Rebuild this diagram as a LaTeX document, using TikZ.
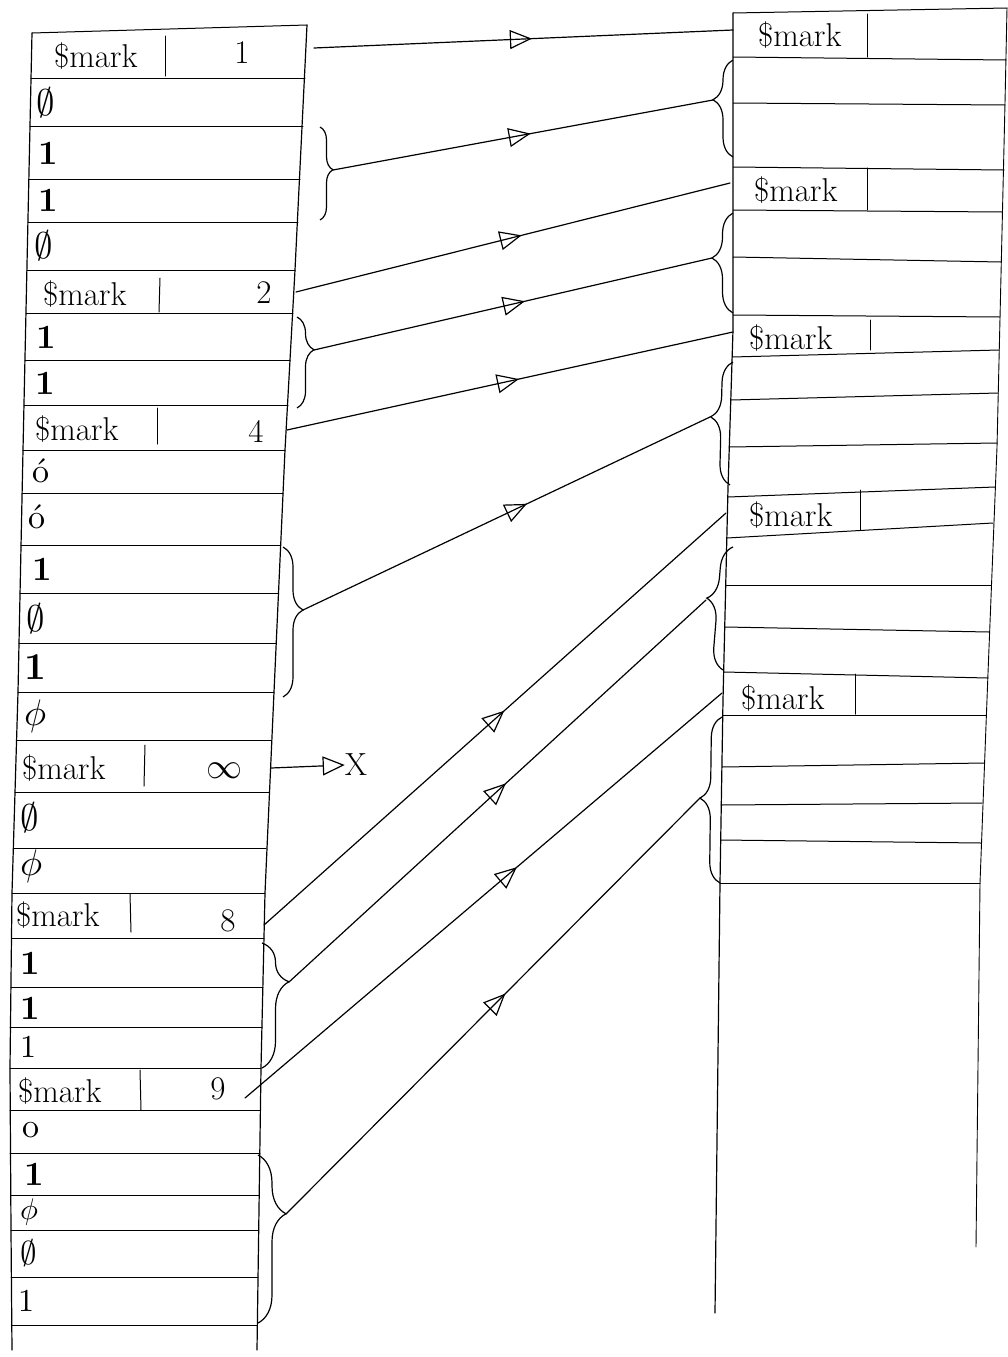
\documentclass[tikz,border=0pt]{standalone}
\usetikzlibrary{arrows.meta,decorations.markings,decorations.pathreplacing}
\newcommand\hsym[2][3.7]{\scalebox{#1}{$#2$}}
\newcommand\htxt[2][3.2]{\scalebox{#1}{#2}}
\begin{document}
\begin{tikzpicture}[x=1pt,y=-1pt,
  edge/.style={line width=1.2pt, line cap=round, line join=round},
  cell/.style={line width=1pt, line cap=round},
  hand/.style={font=\fontsize{33}{33}\selectfont, inner sep=0pt},
  sym/.style={font=\fontsize{10}{12}\selectfont, inner sep=0pt, anchor=west},
  bsym/.style={font=\fontsize{10}{12}\selectfont\bfseries, inner sep=0pt, anchor=west},
  brc/.style 2 args={decorate, decoration={brace, amplitude=#1, aspect=#2}, line width=1.2pt},
  conn/.style={edge, postaction={decorate}, decoration={markings,
     mark=at position #1 with {\arrow{Triangle[open,length=22pt,width=19pt,line width=1.2pt]}}}}
]
\useasboundingbox (0,0) rectangle (1007,1357);

% ---------------- left column ----------------
\draw[edge] (32,33) -- (23,450) -- (18,692) -- (12,893) -- (10,1068) -- (11,1230) -- (12,1350);
\draw[edge] (307,25) -- (295,270) -- (285,450) -- (274,692) -- (265,893) -- (261,1068) -- (257,1350);
\draw[cell] (32,33) -- (307,25);
\foreach \y/\l/\r in {78/31/305, 126/30/303, 179/29/300, 222/28/298, 270/27/295,
  313/26/293, 360/25/290, 405/24/288, 450/23/285, 493/22/283, 545/21/280,
  593/20/278, 643/19/276, 692/18/274, 740/17/271, 792/15/269, 848/14/266,
  893/12/265, 938/12/264, 987/11/263, 1027/10/262, 1068/10/261, 1110/10/260,
  1153/10/260, 1195/11/259, 1230/11/258, 1277/11/258, 1325/12/257}
  \draw[cell] (\l,\y) -- (\r,\y);
% dividers in $mark rows
\draw[cell] (165,36) -- (165,76);
\draw[cell] (160,278) -- (159,312);
\draw[cell] (157,408) -- (157,444);
\draw[cell] (145,745) -- (144,786);
\draw[cell] (130,894) -- (131,932);
\draw[cell] (140,1070) -- (141,1110);

% left texts
\node[hand,anchor=west] (L1) at (54,56) {\$mark};
\node[hand] (L1n) at (242,53) {1};
\node[sym] (L2) at (36,103) {\hsym{\emptyset}};
\node[bsym] (L3) at (38,153) {\htxt[3.4]{1}};
\node[bsym] (L4) at (38,200) {\htxt[3.4]{1}};
\node[sym] (L5) at (34,246) {\hsym{\emptyset}};
\node[hand,anchor=west] (L6) at (43,294) {\$mark};
\node[hand] (L6n) at (264,293) {2};
\node[bsym] (L7) at (36,337) {\htxt[3.4]{1}};
\node[bsym] (L8) at (35,383) {\htxt[3.4]{1}};
\node[hand,anchor=west] (L9) at (35,429) {\$mark};
\node[hand] (L9n) at (256,431) {4};
\node[sym] (L10) at (32,471) {\htxt[3.4]{ó}};
\node[sym] (L11) at (28,517) {\htxt[3.4]{ó}};
\node[bsym] (L12) at (32,569) {\htxt[3.4]{1}};
\node[sym] (L13) at (26,619) {\hsym{\emptyset}};
\node[bsym] (L14) at (24,667) {\htxt[3.8]{1}};
\node[sym] (L15) at (24,716) {\hsym{\phi}};
\node[hand,anchor=west] (L16) at (22,768) {\$mark};
\node[sym,anchor=center] (L16n) at (224,771) {\hsym[3.6]{\infty}};
\node[sym] (L17) at (20,818) {\hsym{\emptyset}};
\node[sym] (L18) at (20,866) {\hsym{\phi}};
\node[hand,anchor=west] (L19) at (16,915) {\$mark};
\node[hand] (L19n) at (228,921) {8};
\node[bsym] (L20) at (20,963) {\htxt[3.4]{1}};
\node[bsym] (L21) at (20,1008) {\htxt[3.4]{1}};
\node[sym] (L22) at (20,1047) {\htxt{1}};
\node[hand,anchor=west] (L23) at (18,1091) {\$mark};
\node[hand] (L23n) at (218,1089) {9};
\node[sym] (L24) at (22,1130) {\htxt[3.4]{o}};
\node[bsym] (L25) at (24,1174) {\htxt[3.4]{1}};
\node[sym] (L26) at (20,1212) {\hsym[3]{\phi}};
\node[sym] (L27) at (20,1253) {\hsym[3.3]{\emptyset}};
\node[sym] (L28) at (18,1301) {\htxt{1}};

% left braces
\draw[brc={13pt}{0.46}] (320,127) -- (320,220);
\draw[brc={17pt}{0.36}] (297,317) -- (297,408);
\draw[brc={20pt}{0.42}] (283,547) -- (283,697);
\draw[brc={27pt}{0.31}] (262,943) -- (262,1068);
\draw[brc={28pt}{0.35}] (258,1155) -- (258,1323);
\coordinate (lb1) at (333,170);
\coordinate (lb2) at (314,350);
\coordinate (lb3) at (303,610);
\coordinate (lb4) at (289,982);
\coordinate (lb5) at (286,1214);

% ---------------- right column ----------------
\draw[edge] (733,13) -- (733,330) -- (728,488) -- (723,700) -- (720,883) -- (715,1313);
\draw[edge,line width=0.9pt] (1007,8) -- (1005,103) -- (997,447) -- (988,673) -- (980,883) -- (976,1247);
\draw[cell] (733,13) -- (1007,8);
\foreach \a/\b/\c/\d in {57/60/733/1006, 103/105/733/1005, 167/170/733/1004,
  210/212/733/1002, 257/262/733/1001, 315/317/733/1000, 357/350/732/999,
  400/393/731/998, 447/443/729/997, 497/487/728/995, 538/523/727/993,
  585/585/726/991, 627/632/725/989, 672/678/724/988, 715/715/723/986,
  767/763/722/984, 805/803/721/982, 840/843/721/981, 883/883/720/980}
  \draw[cell] (\c,\a) -- (\d,\b);
\draw[cell] (867,14) -- (867,57);
\draw[cell] (867,168) -- (867,210);
\draw[cell] (870,320) -- (870,350);
\draw[cell] (860,490) -- (860,530);
\draw[cell] (855,674) -- (855,714);

\node[hand,anchor=west] (R1) at (758,35) {\$mark};
\node[hand,anchor=west] (R2) at (754,190) {\$mark};
\node[hand,anchor=west] (R3) at (749,338) {\$mark};
\node[hand,anchor=west] (R4) at (749,515) {\$mark};
\node[hand,anchor=west] (R5) at (741,698) {\$mark};

% right braces
\draw[brc={20pt}{0.59}] (733,157) -- (733,60);
\draw[brc={21pt}{0.55}] (733,313) -- (733,213);
\draw[brc={21pt}{0.55}] (730,485) -- (733,362);
\draw[brc={22pt}{0.57}] (723,670) -- (733,547);
\draw[brc={21pt}{0.51}] (720,883) -- (722,717);
\coordinate (rb1) at (713,100);
\coordinate (rb2) at (712,258);
\coordinate (rb3) at (710,417);
\coordinate (rb4) at (706,600);
\coordinate (rb5) at (700,798);

% ---------------- connectors ----------------
\coordinate (m1) at (314,48);   \coordinate (r1) at (733,30);
\coordinate (m2) at (296,292);  \coordinate (r2) at (730,183);
\coordinate (m4) at (287,430);  \coordinate (r3) at (733,332);
\coordinate (mi) at (271,768);
\coordinate (m8) at (264,925);  \coordinate (r4) at (726,513);
\coordinate (m9) at (245,1098); \coordinate (r5) at (722,693);
\node[font=\fontsize{32}{32}\selectfont, inner sep=0pt] (X) at (356,765) {X};

\draw[conn=0.52] (m1) -- (r1);
\draw[conn=0.52] (lb1) -- (rb1);
\draw[conn=0.52] (m2) -- (r2);
\draw[conn=0.53] (lb2) -- (rb2);
\draw[conn=0.52] (m4) -- (r3);
\draw[conn=0.55] (lb3) -- (rb3);
\draw[edge,-{Triangle[open,length=22pt,width=19pt,line width=1.2pt]}] (mi) -- (X.west);
\draw[conn=0.52] (m8) -- (r4);
\draw[conn=0.52] (lb4) -- (rb4);
\draw[conn=0.57] (m9) -- (r5);
\draw[conn=0.53] (lb5) -- (rb5);
\end{tikzpicture}
\end{document}
